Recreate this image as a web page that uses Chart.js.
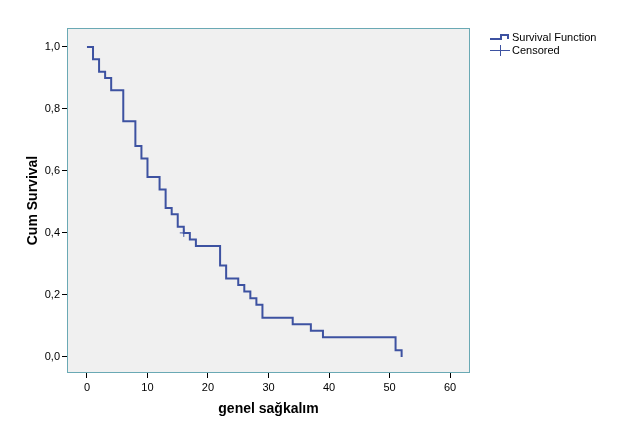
<!DOCTYPE html>
<html lang="tr">
<head>
<meta charset="UTF-8">
<title>Survival Function</title>
<script src="https://cdn.jsdelivr.net/npm/chart.js"></script>
<style>
  html, body { margin: 0; padding: 0; background: #fff; }
  #wrap { width: 629px; height: 437px; position: relative; }
</style>
</head>
<body>
<div id="wrap"><canvas id="km"></canvas></div>
<script>
// zaman noktaları (ay) ve kümülatif sağkalım
var zaman = [0, 1, 2, 3, 4, 6, 8, 9, 10, 12, 13, 14, 15, 16, 17, 18, 22, 23, 25, 26, 27, 28, 29, 34, 37, 39, 51, 52];
var sagkalim = [1.0, 0.96, 0.92, 0.90, 0.86, 0.76, 0.68, 0.64, 0.58, 0.54, 0.48, 0.46, 0.42, 0.40, 0.379, 0.358, 0.295, 0.253, 0.232, 0.211, 0.189, 0.168, 0.126, 0.105, 0.084, 0.063, 0.021, 0.0];
// sansürlü gözlem
var sansurZaman = [16];
var sansurDeger = [0.40];
var xTicks = [0, 10, 20, 30, 40, 50, 60];
var yTicks = [0, 0.2, 0.4, 0.6, 0.8, 1.0];

var mavi = '#3d52a1';

var bgFrame = {
    id: 'bgFrame',
    beforeDraw: function (chart) {
        var a = chart.chartArea, c = chart.ctx;
        c.save();
        c.fillStyle = '#f0f0f0';
        c.fillRect(a.left, a.top, a.right - a.left, a.bottom - a.top);
        c.restore();
    },
    afterDraw: function (chart) {
        var a = chart.chartArea, c = chart.ctx;
        c.save();
        c.strokeStyle = '#6aa9b4';
        c.lineWidth = 1;
        c.strokeRect(a.left + 0.5, a.top + 0.5, a.right - a.left - 1, a.bottom - a.top - 1);

        // legend
        c.strokeStyle = mavi;
        c.lineWidth = 2;
        c.beginPath();
        c.moveTo(490, 39); c.lineTo(501, 39); c.lineTo(501, 35); c.lineTo(508, 35); c.lineTo(508, 39);
        c.stroke();
        c.lineWidth = 1;
        c.beginPath();
        c.moveTo(490, 50.5); c.lineTo(510, 50.5);
        c.moveTo(500.5, 45); c.lineTo(500.5, 56);
        c.stroke();
        c.fillStyle = '#000';
        c.font = '11px "Liberation Sans", Arial, sans-serif';
        c.textBaseline = 'middle';
        c.fillText('Survival Function', 512, 37.5);
        c.fillText('Censored', 512, 50.5);
        c.restore();
    }
};

var kmData = zaman.map(function (t, i) { return { x: t, y: sagkalim[i] }; });
var sansurData = sansurZaman.map(function (t, i) { return { x: t, y: sansurDeger[i] }; });

new Chart(document.getElementById('km'), {
    type: 'line',
    data: {
        datasets: [{
            label: 'Survival Function',
            data: kmData,
            stepped: 'before',
            borderColor: mavi,
            borderWidth: 2,
            pointRadius: 0,
            fill: false
        }, {
            label: 'Censored',
            data: sansurData,
            showLine: false,
            pointStyle: 'cross',
            pointRadius: 4,
            pointBorderWidth: 1,
            pointBorderColor: mavi,
            pointBackgroundColor: mavi
        }]
    },
    options: {
        responsive: true,
        maintainAspectRatio: false,
        animation: false,
        layout: { padding: { top: 28, right: 159, left: 0, bottom: 0 } },
        plugins: { legend: { display: false }, tooltip: { enabled: false } },
        scales: {
            x: {
                type: 'linear',
                min: -3.3,
                max: 63.3,
                afterBuildTicks: function (s) { s.ticks = xTicks.map(function (v) { return { value: v }; }); },
                afterFit: function (s) { s.height = 64; },
                grid: { drawOnChartArea: false, drawTicks: true, tickLength: 5, color: '#000' },
                border: { display: false },
                ticks: {
                    color: '#000',
                    padding: 3,
                    maxRotation: 0,
                    font: { family: '"Liberation Sans", Arial, sans-serif', size: 11 }
                },
                title: {
                    display: true,
                    text: 'genel sağkalım',
                    color: '#000',
                    padding: { top: 0, bottom: 19 },
                    font: { family: '"Liberation Sans", Arial, sans-serif', size: 14, weight: 'bold' }
                }
            },
            y: {
                min: -0.052,
                max: 1.061,
                afterBuildTicks: function (s) { s.ticks = yTicks.map(function (v) { return { value: v }; }); },
                afterFit: function (s) { s.width = 67; },
                grid: { drawOnChartArea: false, drawTicks: true, tickLength: 5, color: '#000' },
                border: { display: false },
                ticks: {
                    color: '#000',
                    padding: 2,
                    font: { family: '"Liberation Sans", Arial, sans-serif', size: 11 },
                    callback: function (v) { return v.toFixed(1).replace('.', ','); }
                },
                title: {
                    display: true,
                    text: 'Cum Survival',
                    color: '#000',
                    padding: { top: 25, bottom: 0 },
                    font: { family: '"Liberation Sans", Arial, sans-serif', size: 14, weight: 'bold' }
                }
            }
        }
    },
    plugins: [bgFrame]
});
</script>
</body>
</html>
